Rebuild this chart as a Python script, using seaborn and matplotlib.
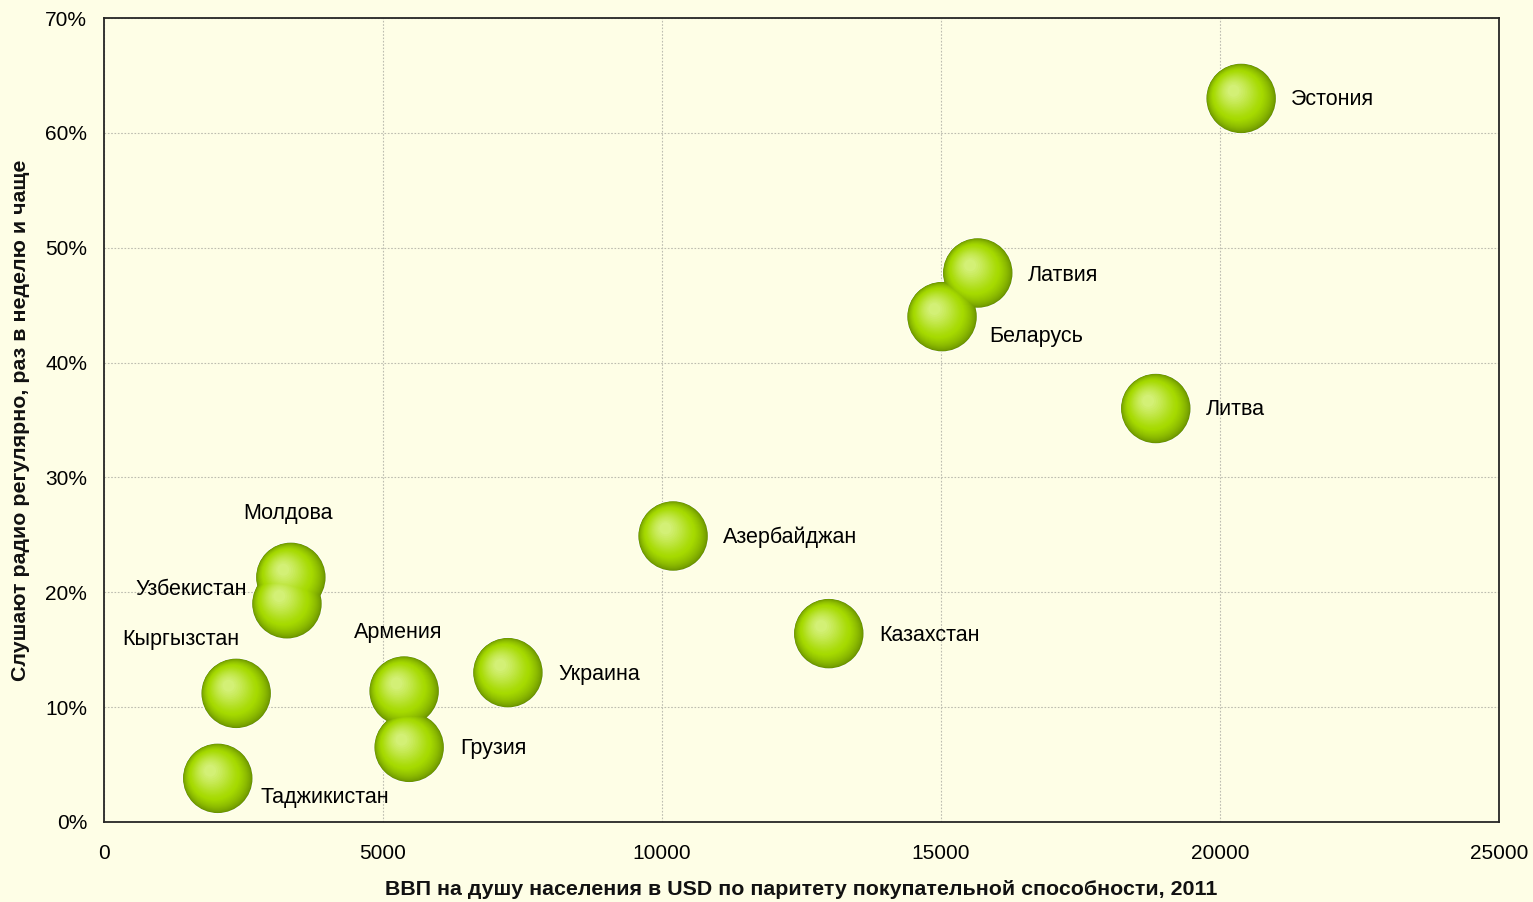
import numpy as np
import pandas as pd
import seaborn as sns
import matplotlib.pyplot as plt
from matplotlib.colors import to_rgb
from matplotlib.ticker import PercentFormatter, MultipleLocator
from matplotlib.transforms import ScaledTranslation

countries = ['Эстония', 'Латвия', 'Беларусь', 'Литва', 'Азербайджан', 'Казахстан',
             'Украина', 'Армения', 'Грузия', 'Молдова', 'Узбекистан', 'Кыргызстан',
             'Таджикистан']
gdp_ppp = [20380, 15660, 15020, 18850, 10200, 12990, 7240, 5380, 5470, 3350, 3280,
           2370, 2040]
radio_share = [63.0, 47.8, 44.0, 36.0, 24.9, 16.4, 13.0, 11.4, 6.5, 21.3, 19.0, 11.2, 3.8]

# label offsets in points (dx, dy) and alignment, relative to the bubble centre
label_pos = {
    'Эстония': (36, -1, 'left'), 'Латвия': (36, -2, 'left'), 'Беларусь': (34, -14, 'left'),
    'Литва': (36, -1, 'left'), 'Азербайджан': (36, -1, 'left'),
    'Казахстан': (36, -1, 'left'), 'Украина': (36, -1, 'left'),
    'Армения': (-4, 42, 'center'), 'Грузия': (37, -1, 'left'),
    'Молдова': (-2, 46, 'center'), 'Узбекистан': (-29, 10, 'right'),
    'Кыргызстан': (-40, 39, 'center'), 'Таджикистан': (31, -14, 'left'),
}

df = pd.DataFrame({'country': countries, 'gdp': gdp_ppp, 'radio': radio_share})

sns.set_style('white')
plt.rcParams['font.family'] = ['Liberation Sans', 'DejaVu Sans']

bg = '#FEFEE6'
fig = plt.figure(figsize=(15.33, 9.02), dpi=100, facecolor=bg)
ax = fig.add_axes([0.0678, 0.0887, 0.91, 0.8913])
ax.set_facecolor(bg)

ax.set_xlim(0, 25000)
ax.set_ylim(0, 70)
ax.xaxis.set_major_locator(MultipleLocator(5000))
ax.yaxis.set_major_locator(MultipleLocator(10))
ax.yaxis.set_major_formatter(PercentFormatter(decimals=0))
ax.grid(True, color='#BDBDB0', linestyle=(0, (1.5, 1.5)), linewidth=0.8)
ax.set_axisbelow(True)
for sp in ax.spines.values():
    sp.set_color('#262626')
    sp.set_linewidth(1.3)
ax.tick_params(axis='both', direction='out', length=5, width=1, color='#404040',
               labelsize=15, labelcolor='#000000')
ax.tick_params(axis='x', pad=11)
ax.tick_params(axis='y', pad=7)

# bubbles: white rim, then many layers for a smooth glossy radial shading
size = 2500
sns.scatterplot(data=df, x='gdp', y='radio', s=size + 130, color='white',
                edgecolor='none', ax=ax, legend=False, zorder=3)
dark = np.array(to_rgb('#6A9200'))
mid = np.array(to_rgb('#A6DA00'))
light = np.array(to_rgb('#D3F076'))
n_layers = 30
for i in range(n_layers):
    t = i / (n_layers - 1)
    frac = (1 - t) ** 1.15 * 0.97 + 0.03
    if t < 0.45:
        col = dark + (mid - dark) * (t / 0.45) ** 0.7
    else:
        col = mid + (light - mid) * ((t - 0.45) / 0.55) ** 1.3
    off = 5.5 * t
    sns.scatterplot(data=df, x='gdp', y='radio', s=size * frac, color=tuple(col),
                    edgecolor='none', ax=ax, legend=False, zorder=4 + i * 0.01)
    coll = ax.collections[-1]
    coll.set_offset_transform(ax.transData +
                              ScaledTranslation(-off / 72, off / 72, fig.dpi_scale_trans))

for name, x, y in zip(countries, gdp_ppp, radio_share):
    dx, dy, ha = label_pos[name]
    ax.annotate(name, (x, y), xytext=(dx, dy), textcoords='offset points',
                ha=ha, va='center', fontsize=15.5, color='#000000', zorder=20)

ax.set_xlabel('ВВП на душу населения в USD по паритету покупательной способности, 2011',
              fontsize=15.4, fontweight='bold', labelpad=12, color='#111111')
ax.set_ylabel('Слушают радио регулярно, раз в неделю и чаще',
              fontsize=15.4, fontweight='bold', labelpad=11, color='#111111')

fig.savefig('out.png', dpi=100, facecolor=bg)
